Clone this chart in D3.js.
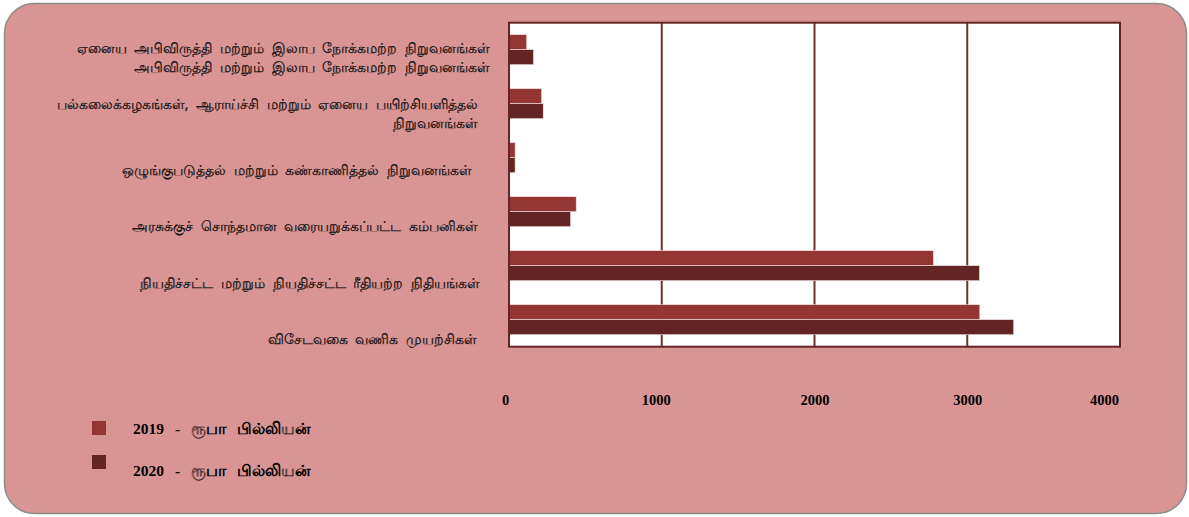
<!DOCTYPE html>
<html><head><meta charset="utf-8">
<script src="https://cdn.jsdelivr.net/npm/d3@7"></script>
<style>body{margin:0;background:#fff;}svg{display:block;}</style>
</head><body>
<script>
const categories = [
  ["ஏனைய அபிவிருத்தி மற்றும் இலாப நோக்கமற்ற நிறுவனங்கள்", "அபிவிருத்தி மற்றும் இலாப நோக்கமற்ற நிறுவனங்கள்"],
  ["பல்கலைக்கழகங்கள், ஆராய்ச்சி மற்றும் ஏனைய பயிற்சியளித்தல்", "நிறுவனங்கள்"],
  ["ஒழுங்குபடுத்தல் மற்றும் கண்காணித்தல் நிறுவனங்கள்"],
  ["அரசுக்குச் சொந்தமான வரையறுக்கப்பட்ட கம்பனிகள்"],
  ["நியதிச்சட்ட மற்றும் நியதிச்சட்ட ரீதியற்ற நிதியங்கள்"],
  ["விசேடவகை வணிக முயற்சிகள்"]
];
const series2019 = [116, 213, 40, 440, 2778, 3082];
const series2020 = [160, 224, 40, 403, 3080, 3304];
const seriesNames = ["2019 - ரூபா பில்லியன்", "2020 - ரூபா பில்லியன்"];
const tickValues = [0, 1000, 2000, 3000, 4000];
const colors = ["#943634", "#632523"];

(function () {
const W = 1189, H = 517;
const svg = d3.select("body").append("svg").attr("width", W).attr("height", H);

svg.append("rect").attr("x", 4.5).attr("y", 3.5).attr("width", 1182).attr("height", 510)
  .attr("rx", 30).attr("ry", 30).attr("fill", "#D99594").attr("stroke", "#8c8c8c").attr("stroke-width", 1.5);

const pL = 509, pR = 1120, pT = 22.7, pB = 346.7;
const x = d3.scaleLinear().domain([0, 4000]).range([pL, pR]);
const idx = d3.range(categories.length);
const y = d3.scaleBand().domain(idx).range([pT, pB]).paddingInner(24/54).paddingOuter(12/54);
const yInner = d3.scaleBand().domain([0, 1]).range([0, y.bandwidth()]);

svg.append("rect").attr("x", pL).attr("y", pT).attr("width", pR - pL).attr("height", pB - pT)
  .attr("fill", "#fff");

svg.append("g").selectAll("line").data(tickValues.slice(1, -1)).join("line")
  .attr("x1", d => x(d)).attr("x2", d => x(d)).attr("y1", pT).attr("y2", pB)
  .attr("stroke", "#6e3232").attr("stroke-width", 2);

const data = [series2019, series2020];
const g = svg.append("g");
data.forEach((s, si) => {
  g.selectAll(".b" + si).data(s).join("rect").attr("class", "b" + si)
    .attr("x", x(0)).attr("y", (d, i) => y(i) + yInner(si))
    .attr("width", d => x(d) - x(0)).attr("height", yInner.bandwidth())
    .attr("fill", colors[si]).attr("stroke", "#f2dcdb").attr("stroke-width", 0.6);
});

svg.append("rect").attr("x", pL).attr("y", pT).attr("width", pR - pL).attr("height", pB - pT)
  .attr("fill", "none").attr("stroke", "#632523").attr("stroke-width", 2);

const ly = d3.scalePoint().domain(idx).range([57, 339]);
const labelX = [490, 478, 472, 478, 480, 477];
const lab = svg.append("g").attr("font-family", "'Noto Sans', 'DejaVu Sans', sans-serif")
  .attr("font-size", 14).attr("fill", "#111").attr("stroke", "#111").attr("stroke-width", 0.25)
  .attr("word-spacing", 4);
categories.forEach((lines, i) => {
  const n = lines.length;
  lines.forEach((t, j) => {
    lab.append("text").attr("x", labelX[i]).attr("y", Math.round(ly(i) + (j - (n - 1) / 2) * 19) + 5)
      .attr("text-anchor", "end").text(t);
  });
});

const axis = d3.axisBottom(x).tickValues(tickValues).tickFormat(d3.format("d")).tickSize(0).tickPadding(0);
const ag = svg.append("g").attr("transform", `translate(0,400)`).call(axis);
ag.select(".domain").remove();
ag.selectAll("text").attr("font-family", "'Liberation Serif', 'Times New Roman', serif")
  .attr("font-size", 14.5).attr("font-weight", "bold").attr("fill", "#000")
  .attr("dy", "0.32em").attr("y", 0);
ag.selectAll(".tick").filter(d => d === 0).select("text").attr("dx", -4);
ag.selectAll(".tick").filter(d => d === 4000).select("text").attr("dx", -16);
ag.selectAll(".tick").filter(d => d === 1000).select("text").attr("dx", -6);

const leg = svg.append("g");
seriesNames.forEach((name, i) => {
  const yy = 428 + i * 34;
  leg.append("rect").attr("x", 92).attr("y", yy - 7).attr("width", 14).attr("height", 14).attr("fill", colors[i]);
  leg.append("text").attr("x", 133).attr("y", yy + (i ? 8 : 0)).attr("dominant-baseline", "central")
    .attr("font-family", "'Liberation Serif', 'Noto Sans', serif").attr("font-weight", "bold")
    .attr("font-size", 15.5).attr("fill", "#000").attr("word-spacing", 7).text(name);
});
})();
</script>
</body></html>
